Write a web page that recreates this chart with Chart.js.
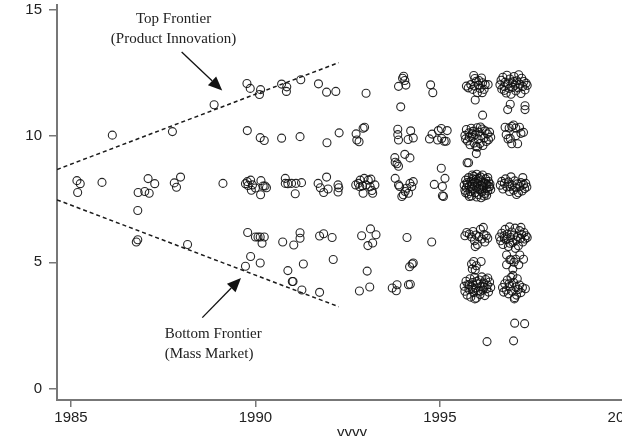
<!DOCTYPE html>
<html>
<head>
<meta charset="utf-8">
<script src="https://cdn.jsdelivr.net/npm/chart.js@4.4.1/dist/chart.umd.min.js"></script>
<style>
  html, body { margin: 0; padding: 0; overflow: hidden; background: #fff; width: 622px; height: 436px; }
  #wrap { position: absolute; left: 0; top: 0; width: 652px; height: 446px; }
</style>
</head>
<body>
<div id="wrap"><canvas id="chart"></canvas></div>
<script>
/* =====================================================
   DATA  ([year, value] pairs)
===================================================== */
const pts1985to89 = [
  [1985.16, 8.23], [1985.25, 8.11], [1985.18, 7.76], [1985.84, 8.16], [1986.12, 10.03],
  [1986.82, 7.76], [1987.0, 7.80], [1987.12, 7.73], [1987.09, 8.31], [1987.27, 8.11],
  [1986.81, 7.05], [1986.77, 5.80], [1986.81, 5.89], [1987.8, 8.14], [1987.86, 7.97],
  [1987.97, 8.37], [1987.75, 10.17], [1988.16, 5.70], [1988.88, 11.23], [1989.12, 8.12]
];

const pts1990 = [
  [1989.77, 12.07], [1989.86, 11.88], [1990.14, 11.83], [1990.11, 11.64], [1989.78, 10.21],
  [1990.13, 9.93], [1990.24, 9.82],
  [1989.73, 8.11], [1989.80, 8.04], [1989.87, 8.25], [1989.92, 8.06], [1989.89, 7.85],
  [1990.0, 7.94], [1990.15, 8.23], [1990.21, 8.02], [1990.26, 8.02], [1990.14, 7.67],
  [1990.30, 7.95], [1989.78, 8.19],
  [1989.79, 6.18], [1990.0, 6.0], [1990.13, 6.0], [1990.24, 6.0], [1990.18, 5.75], [1990.07, 6.0],
  [1989.87, 5.23], [1989.73, 4.84], [1990.13, 4.97]
];

const pts1991 = [
  [1990.71, 12.05], [1990.85, 11.94], [1990.84, 11.76], [1991.23, 12.22], [1990.71, 9.91],
  [1991.21, 9.97],
  [1990.81, 8.32], [1990.81, 8.12], [1990.88, 8.11], [1991.10, 8.12], [1991.25, 8.15],
  [1991.08, 7.71], [1990.98, 8.12],
  [1990.74, 5.80], [1991.04, 5.68], [1991.21, 5.95], [1991.21, 6.17],
  [1990.88, 4.67], [1991.30, 4.93], [1991.02, 4.24], [1991.0, 4.24], [1991.26, 3.90]
];

const pts1992 = [
  [1991.71, 12.06], [1991.93, 11.73], [1992.18, 11.76], [1991.94, 9.73], [1992.27, 10.12],
  [1991.70, 8.12], [1991.76, 7.95], [1991.93, 8.37], [1991.85, 7.76], [1991.97, 7.90],
  [1992.24, 8.06], [1992.26, 7.95], [1992.24, 7.78],
  [1991.74, 6.04], [1991.85, 6.13], [1992.08, 5.98], [1992.11, 5.11], [1991.74, 3.81]
];

const pts1993 = [
  [1993.0, 11.69],
  [1992.73, 10.08], [1992.75, 9.84], [1992.81, 9.77], [1992.92, 10.30], [1992.96, 10.34],
  [1992.72, 8.06], [1992.79, 8.12], [1992.84, 8.25], [1992.90, 8.02], [1992.95, 8.32],
  [1993.0, 8.06], [1993.06, 8.25], [1993.11, 7.99], [1993.16, 7.84], [1993.24, 8.06],
  [1992.92, 7.73], [1993.13, 8.29], [1992.83, 7.99], [1993.18, 7.73],
  [1992.88, 6.05], [1993.12, 6.32], [1993.27, 6.09], [1993.18, 5.76], [1993.05, 5.66],
  [1993.03, 4.65], [1992.82, 3.86], [1993.10, 4.02]
];

const pts1994 = [
  [1993.99, 12.28], [1994.05, 12.19], [1993.88, 11.96], [1994.08, 12.01], [1994.02, 12.36],
  [1993.94, 11.15],
  [1993.86, 10.26], [1993.86, 10.05], [1993.88, 9.84], [1994.21, 10.20], [1994.14, 9.86],
  [1994.28, 9.92],
  [1993.78, 9.14], [1993.84, 8.90], [1993.88, 8.80], [1994.05, 9.27], [1994.19, 9.13],
  [1993.79, 8.96],
  [1993.79, 8.32], [1993.91, 8.0], [1994.01, 7.67], [1994.10, 7.93], [1994.19, 8.12],
  [1994.28, 8.19], [1994.24, 8.0], [1994.06, 7.8], [1993.97, 7.6], [1994.15, 7.73],
  [1993.88, 8.06],
  [1994.11, 5.98], [1994.18, 4.82], [1994.25, 4.93], [1994.28, 4.97],
  [1993.71, 3.98], [1993.82, 3.87], [1993.84, 4.11], [1994.15, 4.11], [1994.20, 4.13]
];

const pts1995 = [
  [1994.75, 12.02], [1994.81, 11.71],
  [1994.72, 9.88], [1994.79, 10.07], [1994.96, 10.21], [1995.04, 10.29], [1995.20, 10.21],
  [1994.94, 9.84], [1995.12, 9.79], [1995.17, 9.79], [1995.05, 9.9],
  [1995.04, 8.72], [1994.85, 8.08], [1995.07, 8.0], [1995.14, 8.32],
  [1995.07, 7.63], [1995.10, 7.60], [1994.78, 5.80]
];

const pts1996 = [
  [1995.72, 11.97], [1995.84, 12.03], [1995.92, 12.39], [1995.95, 12.27], [1995.99, 12.16],
  [1996.05, 12.01], [1996.09, 11.88], [1996.15, 11.71], [1996.23, 12.03], [1996.31, 12.03],
  [1996.16, 12.10], [1995.89, 11.84], [1996.13, 12.29], [1995.77, 11.90], [1996.02, 11.71],
  [1996.20, 11.84], [1995.94, 11.97], [1996.06, 12.19],
  [1995.96, 11.42], [1996.16, 10.82],
  [1995.68, 10.02], [1995.72, 10.25], [1995.75, 9.80], [1995.79, 10.12], [1995.82, 9.65],
  [1995.85, 10.30], [1995.87, 9.95], [1995.90, 10.18], [1995.93, 9.72], [1995.96, 10.05],
  [1995.98, 9.58], [1996.01, 10.32], [1996.04, 9.88], [1996.06, 10.15], [1996.09, 9.70],
  [1996.12, 10.00], [1996.15, 10.27], [1996.17, 9.62], [1996.20, 9.92], [1996.23, 10.20],
  [1996.26, 9.78], [1996.29, 10.08], [1996.32, 9.85], [1996.35, 10.15], [1996.38, 9.95],
  [1995.70, 9.88], [1995.88, 10.08], [1996.10, 10.35], [1996.02, 9.55], [1995.80, 9.95],
  [1995.99, 9.30], [1995.74, 8.94], [1995.78, 8.94],
  [1995.66, 8.05], [1995.68, 7.85], [1995.70, 8.25], [1995.72, 7.95], [1995.74, 8.15],
  [1995.76, 7.70], [1995.78, 8.35], [1995.80, 8.00], [1995.82, 7.80], [1995.84, 8.20],
  [1995.86, 7.62], [1995.88, 8.10], [1995.90, 7.90], [1995.92, 8.40], [1995.94, 8.02],
  [1995.96, 7.75], [1995.98, 8.28], [1996.00, 7.95], [1996.02, 8.12], [1996.04, 7.68],
  [1996.06, 8.32], [1996.08, 7.88], [1996.10, 8.05], [1996.12, 8.22], [1996.14, 7.78],
  [1996.16, 8.45], [1996.18, 7.98], [1996.20, 8.15], [1996.22, 7.72], [1996.24, 8.30],
  [1996.26, 7.92], [1996.28, 8.08], [1996.30, 7.82], [1996.32, 8.20], [1996.34, 7.98],
  [1996.36, 8.10], [1996.38, 7.88], [1995.75, 8.08], [1995.85, 7.98], [1995.95, 8.15],
  [1996.05, 7.92], [1996.15, 8.02], [1996.25, 8.12], [1996.35, 8.00], [1995.80, 7.60],
  [1995.90, 8.30], [1996.00, 7.58], [1996.10, 8.38], [1996.20, 7.62], [1996.30, 8.35],
  [1995.70, 7.75], [1996.00, 8.48], [1996.12, 7.55], [1995.88, 8.45], [1996.27, 7.65],
  [1995.68, 6.05], [1995.73, 6.18], [1995.80, 6.12], [1995.86, 6.00], [1995.90, 6.22],
  [1995.94, 5.85], [1995.98, 6.08], [1996.02, 5.70], [1996.06, 6.02], [1996.10, 6.30],
  [1996.14, 5.92], [1996.18, 6.38], [1996.22, 5.80], [1996.26, 6.05], [1996.30, 5.95],
  [1995.96, 5.62], [1996.20, 6.10],
  [1995.86, 4.93], [1995.92, 5.03], [1995.96, 4.69], [1996.12, 5.03], [1995.88, 4.73],
  [1995.99, 4.86],
  [1995.66, 4.05], [1995.68, 3.85], [1995.71, 4.25], [1995.74, 3.70], [1995.76, 4.12],
  [1995.79, 3.92], [1995.82, 4.35], [1995.84, 3.62], [1995.87, 4.02], [1995.89, 4.20],
  [1995.92, 3.80], [1995.94, 4.40], [1995.97, 3.98], [1995.99, 3.58], [1996.02, 4.15],
  [1996.04, 3.88], [1996.07, 4.30], [1996.09, 3.72], [1996.12, 4.05], [1996.14, 4.42],
  [1996.17, 3.90], [1996.19, 4.18], [1996.22, 3.68], [1996.24, 4.32], [1996.27, 3.95],
  [1996.29, 4.10], [1996.32, 3.82], [1996.35, 4.22], [1996.38, 4.00], [1995.80, 4.10],
  [1995.90, 3.95], [1996.00, 4.25], [1996.10, 3.85], [1996.20, 4.02], [1996.30, 4.38],
  [1995.95, 3.55],
  [1996.28, 1.86]
];

const pts1997 = [
  [1996.63, 12.02], [1996.66, 12.20], [1996.68, 11.85], [1996.71, 12.32], [1996.74, 11.95],
  [1996.77, 12.12], [1996.80, 11.70], [1996.82, 12.40], [1996.85, 12.05], [1996.88, 11.88],
  [1996.90, 12.25], [1996.93, 11.65], [1996.96, 12.10], [1996.98, 11.92], [1997.01, 12.35],
  [1997.04, 12.00], [1997.06, 11.78], [1997.09, 12.18], [1997.12, 11.90], [1997.14, 12.42],
  [1997.17, 12.05], [1997.20, 11.68], [1997.22, 12.28], [1997.25, 11.95], [1997.28, 12.15],
  [1997.31, 11.82], [1997.34, 12.08], [1997.37, 12.00], [1996.75, 11.80], [1997.00, 12.15],
  [1996.91, 11.25], [1996.84, 11.04], [1997.31, 11.19], [1997.31, 11.04],
  [1996.77, 10.34], [1996.88, 10.31], [1996.95, 10.37], [1997.00, 10.43], [1997.06, 10.31],
  [1997.16, 10.34], [1997.27, 10.14], [1996.91, 9.90], [1996.85, 9.88], [1996.95, 9.69],
  [1997.11, 9.69], [1997.06, 10.01], [1996.80, 10.05], [1997.20, 10.10],
  [1996.64, 8.05], [1996.68, 8.20], [1996.71, 7.90], [1996.75, 8.12], [1996.78, 8.30],
  [1996.82, 7.98], [1996.86, 8.18], [1996.89, 7.80], [1996.93, 8.38], [1996.96, 8.05],
  [1997.00, 7.85], [1997.03, 8.22], [1997.06, 7.95], [1997.10, 8.10], [1997.13, 7.75],
  [1997.17, 8.00], [1997.20, 8.15], [1997.23, 7.82], [1997.27, 8.08], [1997.30, 7.92],
  [1997.33, 8.12], [1997.36, 7.98], [1997.25, 8.35], [1997.08, 7.68], [1996.90, 8.00],
  [1996.62, 6.00], [1996.65, 5.85], [1996.68, 6.15], [1996.71, 5.70], [1996.74, 6.05],
  [1996.77, 6.30], [1996.80, 5.90], [1996.83, 6.12], [1996.86, 5.62], [1996.89, 6.40],
  [1996.92, 5.98], [1996.95, 6.20], [1996.98, 5.78], [1997.01, 6.08], [1997.04, 6.35],
  [1997.07, 5.88], [1997.10, 6.02], [1997.13, 5.65], [1997.16, 6.25], [1997.19, 5.95],
  [1997.22, 6.10], [1997.25, 5.80], [1997.28, 6.18], [1997.31, 5.92], [1997.34, 6.05],
  [1997.37, 5.98], [1996.90, 5.75], [1997.05, 5.55], [1996.75, 5.95], [1997.20, 6.38],
  [1996.81, 5.29], [1996.93, 5.10], [1997.06, 5.12], [1997.17, 5.29], [1997.27, 5.12],
  [1996.81, 4.90], [1996.98, 4.73], [1997.14, 4.90], [1997.01, 5.0], [1996.90, 5.10],
  [1996.70, 4.00], [1996.73, 3.82], [1996.76, 4.15], [1996.80, 3.90], [1996.83, 4.30],
  [1996.86, 3.75], [1996.90, 4.05], [1996.93, 4.40], [1996.96, 3.85], [1997.00, 4.20],
  [1997.03, 3.60], [1997.06, 4.02], [1997.10, 4.35], [1997.13, 3.92], [1997.16, 4.10],
  [1997.20, 3.80], [1997.24, 4.00], [1997.32, 3.95], [1996.98, 4.48], [1997.08, 3.70],
  [1996.88, 4.15], [1997.02, 3.55],
  [1997.03, 2.59], [1997.30, 2.57], [1997.00, 1.89]
];

// dashed frontier lines (endpoints)
const topFrontier = [[1984.62, 8.67], [1992.26, 12.9]];
const bottomFrontier = [[1984.62, 7.47], [1992.26, 3.24]];

// arrows: [from, to(tip)]
const topArrow = [[1988.0, 13.32], [1989.10, 11.80]];
const bottomArrow = [[1988.56, 2.81], [1989.61, 4.38]];

const xTicks = [1985, 1990, 1995, 2000];
const yTicks = [0, 5, 10, 15];
const xTitle = "yyyy";

/* =====================================================
   ANNOTATIONS (arrows + text)
===================================================== */
const notes = [
  { text: "Top Frontier", at: [1987.78, 14.61], align: "center" },
  { text: "(Product Innovation)", at: [1987.78, 13.83], align: "center" },
  { text: "Bottom Frontier", at: [1987.54, 2.15], align: "left" },
  { text: "(Mass Market)", at: [1987.54, 1.37], align: "left" }
];

const annotate = {
  id: "annotate",
  afterDatasetsDraw(chart) {
    const { ctx, scales: { x, y } } = chart;
    ctx.save();
    ctx.strokeStyle = "#111";
    ctx.fillStyle = "#111";
    ctx.lineWidth = 1.3;

    [topArrow, bottomArrow].forEach(([from, to]) => {
      const x0 = x.getPixelForValue(from[0]), y0 = y.getPixelForValue(from[1]);
      const x1 = x.getPixelForValue(to[0]), y1 = y.getPixelForValue(to[1]);
      const ang = Math.atan2(y1 - y0, x1 - x0);
      const len = 14, half = 6;
      const bx = x1 - len * Math.cos(ang), by = y1 - len * Math.sin(ang);
      ctx.beginPath();
      ctx.moveTo(x0, y0);
      ctx.lineTo(bx, by);
      ctx.stroke();
      ctx.beginPath();
      ctx.moveTo(x1, y1);
      ctx.lineTo(bx + half * Math.sin(ang), by - half * Math.cos(ang));
      ctx.lineTo(bx - half * Math.sin(ang), by + half * Math.cos(ang));
      ctx.closePath();
      ctx.fill();
    });

    ctx.font = "15px 'Liberation Serif', 'Times New Roman', serif";
    ctx.fillStyle = "#222";
    ctx.textBaseline = "middle";
    notes.forEach(n => {
      ctx.textAlign = n.align;
      ctx.fillText(n.text, x.getPixelForValue(n.at[0]), y.getPixelForValue(n.at[1]));
    });
    ctx.restore();
  }
};

/* =====================================================
   CHART
===================================================== */
const allPts = [].concat(pts1985to89, pts1990, pts1991, pts1992, pts1993, pts1994, pts1995, pts1996, pts1997);
const toXY = arr => arr.map(p => ({ x: p[0], y: p[1] }));
const axisFont = { family: "'Liberation Sans', Arial, sans-serif", size: 15 };

const dashed = {
  type: "line",
  borderColor: "#1a1a1a",
  borderWidth: 1.5,
  borderDash: [4, 3],
  pointRadius: 0,
  fill: false
};

new Chart(document.getElementById("chart"), {
  type: "scatter",
  data: {
    datasets: [
      {
        data: toXY(allPts),
        pointStyle: "circle",
        pointRadius: 4,
        borderWidth: 1.1,
        borderColor: "rgba(15,15,15,0.9)",
        backgroundColor: "rgba(0,0,0,0)"
      },
      Object.assign({ data: toXY(topFrontier) }, dashed),
      Object.assign({ data: toXY(bottomFrontier) }, dashed)
    ]
  },
  options: {
    responsive: true,
    maintainAspectRatio: false,
    animation: false,
    layout: { padding: 0 },
    plugins: {
      legend: { display: false },
      tooltip: { enabled: false }
    },
    scales: {
      x: {
        type: "linear",
        min: 1984.62,
        max: 2000.615,
        afterBuildTicks: s => { s.ticks = xTicks.map(v => ({ value: v })); },
        afterFit: s => { s.height = 46; s.paddingLeft = 0; s.paddingRight = 0; },
        grid: { drawOnChartArea: false, drawTicks: true, tickLength: 7, color: "#777", lineWidth: 1.5 },
        border: { color: "#777", width: 2 },
        ticks: { padding: 2, color: "#222", font: axisFont, callback: v => String(v) },
        title: { display: true, text: xTitle, color: "#222", font: axisFont }
      },
      y: {
        type: "linear",
        min: -0.45,
        max: 15.175,
        afterBuildTicks: s => { s.ticks = yTicks.map(v => ({ value: v })); },
        afterFit: s => { s.width = 57; s.paddingTop = 0; s.paddingBottom = 0; },
        grid: { drawOnChartArea: false, drawTicks: true, tickLength: 8, color: "#777", lineWidth: 1.5 },
        border: { color: "#777", width: 2 },
        ticks: { padding: 7, color: "#222", font: axisFont, callback: v => String(v) }
      }
    }
  },
  plugins: [annotate]
});
</script>
</body>
</html>
